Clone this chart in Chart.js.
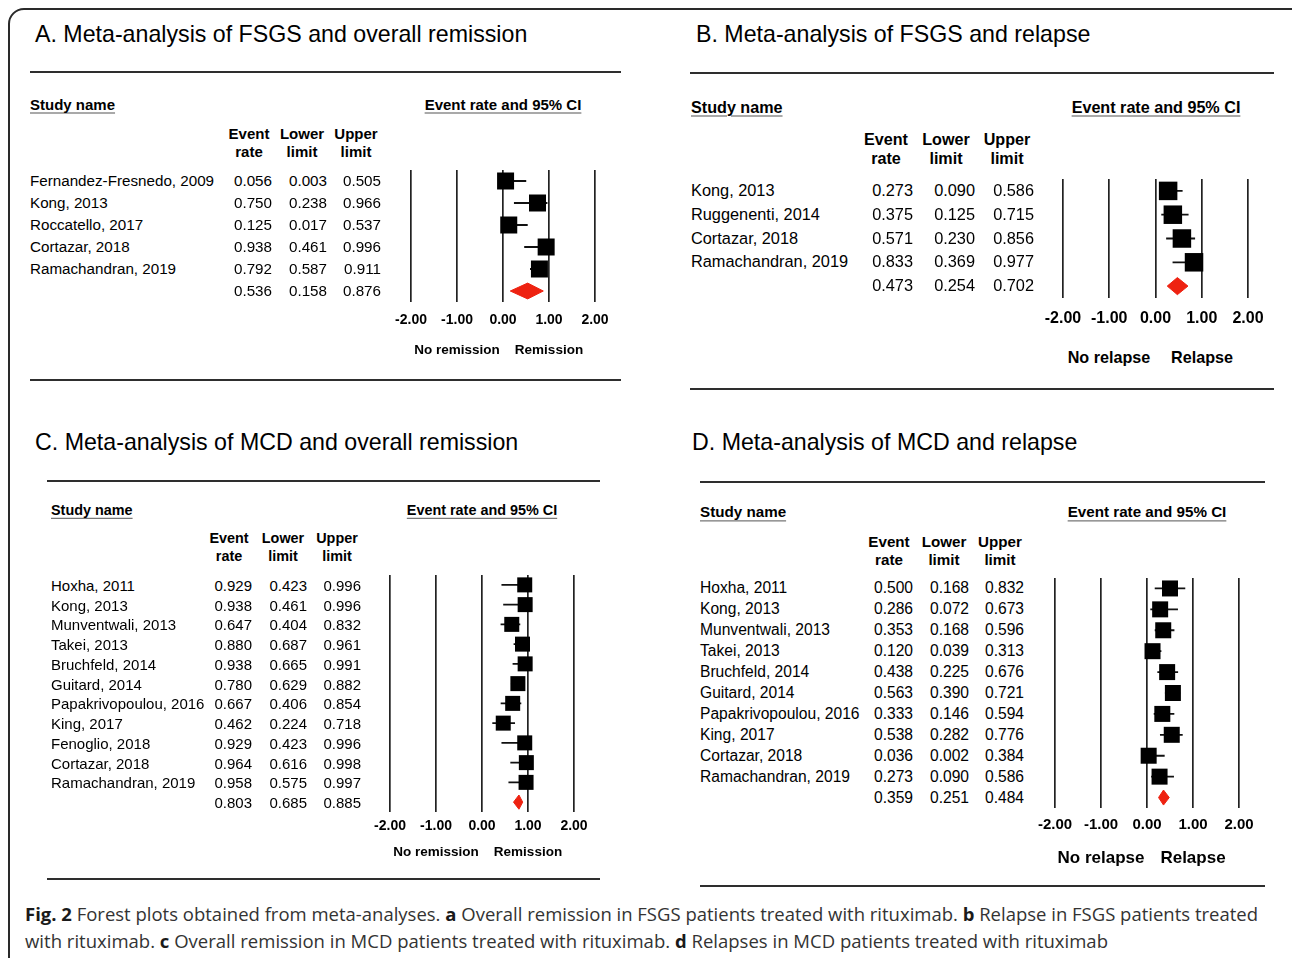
<!DOCTYPE html>
<html>
<head>
<meta charset="utf-8">
<script src="https://cdn.jsdelivr.net/npm/chart.js@4.4.0/dist/chart.umd.min.js"></script>
<style>
html,body{margin:0;padding:0;background:#fff;}
#page{position:relative;width:1292px;height:958px;overflow:hidden;background:#fff;font-family:'Liberation Sans',Arial,Helvetica,sans-serif;color:#000;}
.t{position:absolute;white-space:nowrap;line-height:1;}
.rule{position:absolute;height:2px;background:#2e2e2e;}
#frame{position:absolute;left:8px;top:8px;width:1300px;height:975px;border:2px solid #2a2a2a;border-radius:16px;box-sizing:border-box;}
canvas{position:absolute;}
.cap{position:absolute;left:25px;white-space:nowrap;font-family:'Open Sans',sans-serif;color:#333;font-size:18.5px;line-height:1;transform-origin:0 50%;}
.cap b{color:#1a1a1a;}
</style>
</head>
<body>
<div id="page"><div id="frame"></div></div>
<script>
// ---------------- data ----------------
const xTicks = [-2, -1, 0, 1, 2];
const studyHeader = "Study name";
const ciHeader = "Event rate and 95% CI";
const colHeaders = [["Event", "rate"], ["Lower", "limit"], ["Upper", "limit"]];

const titleA = "A. Meta-analysis of FSGS and overall remission";
const namesA = ["Fernandez-Fresnedo, 2009", "Kong, 2013", "Roccatello, 2017", "Cortazar, 2018", "Ramachandran, 2019"];
const rateA  = [0.056, 0.750, 0.125, 0.938, 0.792];
const lowerA = [0.003, 0.238, 0.017, 0.461, 0.587];
const upperA = [0.505, 0.966, 0.537, 0.996, 0.911];
const summaryA = [0.536, 0.158, 0.876];
const sideA = ["No remission", "Remission"];

const titleB = "B. Meta-analysis of FSGS and relapse";
const namesB = ["Kong, 2013", "Ruggenenti, 2014", "Cortazar, 2018", "Ramachandran, 2019"];
const rateB  = [0.273, 0.375, 0.571, 0.833];
const lowerB = [0.090, 0.125, 0.230, 0.369];
const upperB = [0.586, 0.715, 0.856, 0.977];
const summaryB = [0.473, 0.254, 0.702];
const sideB = ["No relapse", "Relapse"];

const titleC = "C. Meta-analysis of MCD and overall remission";
const namesC = ["Hoxha, 2011", "Kong, 2013", "Munventwali, 2013", "Takei, 2013", "Bruchfeld, 2014", "Guitard, 2014", "Papakrivopoulou, 2016", "King, 2017", "Fenoglio, 2018", "Cortazar, 2018", "Ramachandran, 2019"];
const rateC  = [0.929, 0.938, 0.647, 0.880, 0.938, 0.780, 0.667, 0.462, 0.929, 0.964, 0.958];
const lowerC = [0.423, 0.461, 0.404, 0.687, 0.665, 0.629, 0.406, 0.224, 0.423, 0.616, 0.575];
const upperC = [0.996, 0.996, 0.832, 0.961, 0.991, 0.882, 0.854, 0.718, 0.996, 0.998, 0.997];
const summaryC = [0.803, 0.685, 0.885];
const sideC = ["No remission", "Remission"];

const titleD = "D. Meta-analysis of MCD and relapse";
const namesD = ["Hoxha, 2011", "Kong, 2013", "Munventwali, 2013", "Takei, 2013", "Bruchfeld, 2014", "Guitard, 2014", "Papakrivopoulou, 2016", "King, 2017", "Cortazar, 2018", "Ramachandran, 2019"];
const rateD  = [0.500, 0.286, 0.353, 0.120, 0.438, 0.563, 0.333, 0.538, 0.036, 0.273];
const lowerD = [0.168, 0.072, 0.168, 0.039, 0.225, 0.390, 0.146, 0.282, 0.002, 0.090];
const upperD = [0.832, 0.673, 0.596, 0.313, 0.676, 0.721, 0.594, 0.776, 0.384, 0.586];
const summaryD = [0.359, 0.251, 0.484];
const sideD = ["No relapse", "Relapse"];

const captionLine1 = '<b>Fig. 2</b> Forest plots obtained from meta-analyses. <b>a</b> Overall remission in FSGS patients treated with rituximab. <b>b</b> Relapse in FSGS patients treated';
const captionLine2 = 'with rituximab. <b>c</b> Overall remission in MCD patients treated with rituximab. <b>d</b> Relapses in MCD patients treated with rituximab';

// ---------------- layout / style ----------------
const FONT = "'Liberation Sans', Arial, Helvetica, sans-serif";
const RED = '#ee2211';
Chart.defaults.font.family = FONT;
const page = document.getElementById('page');

const layouts = {
  A: {titleX: 35, titleY: 35, ruleX: [30, 621], ruleY: [71, 379], hdrY: 104, nameX: 30,
      colX: [249, 302, 356], valR: [272, 327, 381], colHdrY: [133, 151],
      plot: {l: 411, r: 595, t: 170, b: 302}, font: 15.2, hdrFont: 15, tickFont: 14, tickY: 320,
      sideY: 350, sideFont: 13.5, sq: 17, sx: 1},
  B: {titleX: 696, titleY: 35, ruleX: [690, 1274], ruleY: [72, 388], hdrY: 107, nameX: 691,
      colX: [886, 946, 1007], valR: [913, 975, 1034], colHdrY: [139, 158],
      plot: {l: 1063, r: 1248, t: 179, b: 298}, font: 17.2, hdrFont: 17, tickFont: 16, tickY: 319,
      sideY: 357, sideFont: 17, sq: 18.5, sx: 0.95},
  C: {titleX: 35, titleY: 443, ruleX: [47, 600], ruleY: [480, 878], hdrY: 510, nameX: 51,
      colX: [229, 283, 337], valR: [252, 307, 361], colHdrY: [538, 556],
      plot: {l: 390, r: 574, t: 575, b: 812}, font: 15, hdrFont: 14.4, tickFont: 14, tickY: 826,
      sideY: 852, sideFont: 13.5, sq: 15, sx: 1},
  D: {titleX: 692, titleY: 443, ruleX: [700, 1265], ruleY: [481, 885], hdrY: 512, nameX: 700,
      colX: [889, 944, 1000], valR: [913, 969, 1024], colHdrY: [542, 560],
      plot: {l: 1055, r: 1239, t: 578, b: 808}, font: 15.6, hdrFont: 15.2, tickFont: 15, tickY: 825,
      sideY: 857, sideFont: 17, sq: 16, sx: 1}
};

const panels = [
  {title: titleA, names: namesA, rate: rateA, lower: lowerA, upper: upperA, summary: summaryA, side: sideA, L: layouts.A},
  {title: titleB, names: namesB, rate: rateB, lower: lowerB, upper: upperB, summary: summaryB, side: sideB, L: layouts.B},
  {title: titleC, names: namesC, rate: rateC, lower: lowerC, upper: upperC, summary: summaryC, side: sideC, L: layouts.C},
  {title: titleD, names: namesD, rate: rateD, lower: lowerD, upper: upperD, summary: summaryD, side: sideD, L: layouts.D}
];

function addText(str, x, y, o) {
  o = o || {};
  const d = document.createElement('div');
  d.className = 't';
  d.textContent = str;
  d.style.left = x + 'px';
  d.style.top = y + 'px';
  d.style.fontSize = (o.size || 15) + 'px';
  if (o.bold) d.style.fontWeight = 'bold';
  if (o.underline) {
    d.style.textDecoration = 'underline';
    d.style.textUnderlineOffset = '3px';
    d.style.textDecorationThickness = '1px';
    d.style.textDecorationColor = '#555';
  }
  const tx = o.align === 'center' ? '-50%' : (o.align === 'right' ? '-100%' : '0');
  const ox = o.align === 'center' ? '50%' : (o.align === 'right' ? '100%' : '0');
  d.style.transformOrigin = ox + ' 50%';
  d.style.transform = 'translate(' + tx + ', -50%)' + (o.sx && o.sx !== 1 ? ' scaleX(' + o.sx + ')' : '');
  page.appendChild(d);
  return d;
}

function addRule(x1, x2, y) {
  const r = document.createElement('div');
  r.className = 'rule';
  r.style.left = x1 + 'px';
  r.style.top = y + 'px';
  r.style.width = (x2 - x1) + 'px';
  page.appendChild(r);
}

function buildPanel(P) {
  const L = P.L;
  const n = P.names.length + 1;
  const padL = 30, padR = 30, padT = 6, axisH = 46;
  const plotW = L.plot.r - L.plot.l, plotH = L.plot.b - L.plot.t;
  const W = plotW + padL + padR, H = plotH + padT + axisH;
  const cx = L.plot.l - padL, cy = L.plot.t - padT;
  const cv = document.createElement('canvas');
  cv.width = W; cv.height = H;
  cv.style.left = cx + 'px'; cv.style.top = cy + 'px';
  cv.style.width = W + 'px'; cv.style.height = H + 'px';
  page.appendChild(cv);

  const whiskers = [];
  P.rate.forEach((v, i) => {
    whiskers.push({x: P.lower[i], y: i}, {x: P.upper[i], y: i}, {x: null, y: null});
  });
  const points = P.rate.map((v, i) => ({x: v, y: i}));
  const k = n - 1, h = 0.36;
  const est = P.summary[0], lo = P.summary[1], hi = P.summary[2];
  const diamond = [{x: lo, y: k}, {x: est, y: k - h}, {x: hi, y: k}, {x: est, y: k + h}, {x: lo, y: k}];

  const chart = new Chart(cv, {
    type: 'scatter',
    data: {datasets: [
      {type: 'line', data: whiskers, borderColor: '#111', borderWidth: 1.8, pointRadius: 0,
       spanGaps: false, fill: false, order: 3},
      {type: 'scatter', data: points, pointStyle: 'rect', pointRadius: L.sq / Math.SQRT2,
       backgroundColor: '#000', borderColor: '#000', borderWidth: 0, order: 1},
      {type: 'line', data: diamond, borderColor: RED, backgroundColor: RED, borderWidth: 1,
       pointRadius: 0, fill: 'shape', tension: 0, order: 2}
    ]},
    options: {
      responsive: false, animation: false, events: [],
      layout: {autoPadding: false, padding: {left: padL, right: padR, top: padT, bottom: 0}},
      plugins: {legend: {display: false}, tooltip: {enabled: false}},
      scales: {
        x: {type: 'linear', min: -2, max: 2,
            afterBuildTicks: ax => { ax.ticks = xTicks.map(v => ({value: v})); },
            afterFit: ax => { ax.height = axisH; },
            ticks: {callback: v => Number(v).toFixed(2), color: '#000',
                    font: {size: L.tickFont, weight: 'bold', family: FONT},
                    padding: L.tickY - L.plot.b - 0.6 * L.tickFont, maxRotation: 0, autoSkip: false},
            grid: {color: '#222', lineWidth: 1.7, drawTicks: false},
            border: {display: false}},
        y: {type: 'linear', min: -0.5, max: n - 0.5, reverse: true, display: false}
      }
    }
  });

  const yPix = i => cy + chart.scales.y.getPixelForValue(i);
  const xPix = v => cx + chart.scales.x.getPixelForValue(v);
  const sx = L.sx;

  addText(P.title, L.titleX, L.titleY, {size: 23.2});
  addRule(L.ruleX[0], L.ruleX[1], L.ruleY[0]);
  addRule(L.ruleX[0], L.ruleX[1], L.ruleY[1]);
  addText(studyHeader, L.nameX, L.hdrY, {size: L.hdrFont, bold: true, underline: true, sx: sx});
  addText(ciHeader, xPix(0), L.hdrY, {size: L.hdrFont, bold: true, underline: true, align: 'center', sx: sx});
  colHeaders.forEach((hd, j) => {
    addText(hd[0], L.colX[j], L.colHdrY[0], {size: L.hdrFont, bold: true, align: 'center', sx: sx});
    addText(hd[1], L.colX[j], L.colHdrY[1], {size: L.hdrFont, bold: true, align: 'center', sx: sx});
  });
  P.names.forEach((nm, i) => {
    const y = yPix(i);
    addText(nm, L.nameX, y, {size: L.font, sx: sx});
    [P.rate[i], P.lower[i], P.upper[i]].forEach((v, j) => {
      addText(v.toFixed(3), L.valR[j], y, {size: L.font, align: 'right', sx: sx});
    });
  });
  P.summary.forEach((v, j) => {
    addText(v.toFixed(3), L.valR[j], yPix(k), {size: L.font, align: 'right', sx: sx});
  });
  addText(P.side[0], xPix(-1), L.sideY, {size: L.sideFont, bold: true, align: 'center', sx: sx});
  addText(P.side[1], xPix(1), L.sideY, {size: L.sideFont, bold: true, align: 'center', sx: sx});
}

panels.forEach(buildPanel);

function addCaption(html, y, targetW) {
  const d = document.createElement('div');
  d.className = 'cap';
  d.innerHTML = html;
  d.style.top = y + 'px';
  page.appendChild(d);
  const w = d.getBoundingClientRect().width;
  d.style.transform = 'translateY(-50%) scaleX(' + (targetW / w) + ')';
}
addCaption(captionLine1, 914, 1233);
addCaption(captionLine2, 941, 1083);
</script>
</body>
</html>
